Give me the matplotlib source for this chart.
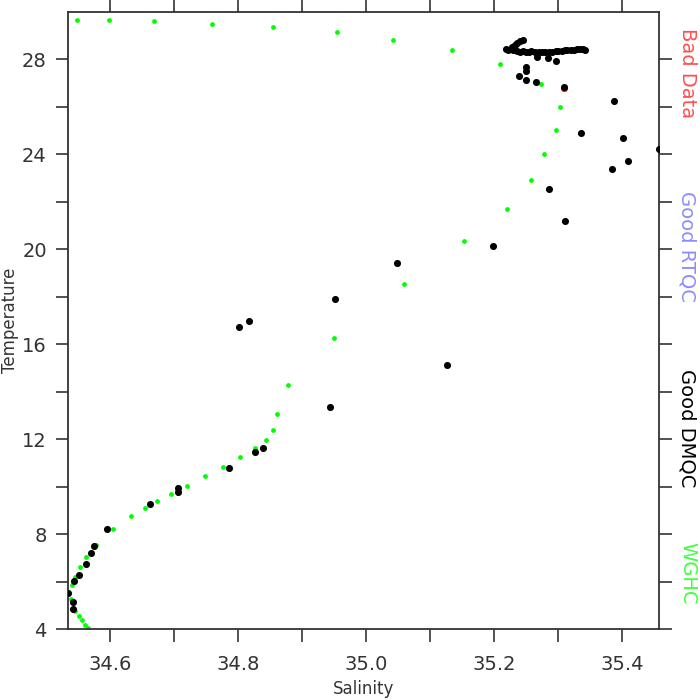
import matplotlib
matplotlib.use('Agg')
import matplotlib.pyplot as plt

# WGHC climatology profile
wghc_sal = [34.549, 34.599, 34.668, 34.760, 34.854, 34.954, 35.042, 35.134,
            35.209, 35.273, 35.302, 35.297, 35.277, 35.257, 35.219, 35.153,
            35.059, 34.950, 34.878, 34.860, 34.855, 34.844, 34.827, 34.803,
            34.776, 34.748, 34.720, 34.695, 34.674, 34.654, 34.633, 34.605,
            34.578, 34.563, 34.553, 34.545, 34.540, 34.539, 34.546, 34.551,
            34.556, 34.561, 34.566]
wghc_temp = [29.66, 29.63, 29.59, 29.50, 29.36, 29.14, 28.80, 28.38,
             27.79, 26.96, 25.99, 25.02, 23.99, 22.90, 21.70, 20.33,
             18.53, 16.25, 14.26, 13.05, 12.37, 11.95, 11.61, 11.23,
             10.84, 10.45, 10.04, 9.69, 9.38, 9.08, 8.76, 8.21,
             7.55, 7.03, 6.60, 6.19, 5.84, 5.25, 4.78, 4.56,
             4.37, 4.18, 4.04]

# bad data
bad_sal = [35.309]
bad_temp = [26.81]

# good DMQC
dmqc_sal = [34.534, 34.543, 34.543, 34.544, 34.552, 34.563, 34.570, 34.575,
            34.596, 34.663, 34.706, 34.706, 34.786, 34.826, 34.839, 34.943,
            35.126, 34.951, 34.801, 34.817, 35.048, 35.198, 35.311, 35.286,
            35.384, 35.408, 35.457, 35.401, 35.336, 35.387, 35.309, 35.265,
            35.249, 35.238, 35.249, 35.250,
            35.218, 35.222, 35.227, 35.232, 35.236, 35.240, 35.244, 35.229,
            35.235, 35.240, 35.244, 35.249, 35.254, 35.258, 35.263, 35.267,
            35.269, 35.274, 35.279, 35.284, 35.285, 35.290, 35.296, 35.296,
            35.300, 35.305, 35.310, 35.314, 35.319, 35.324, 35.329, 35.333,
            35.338, 35.341]
dmqc_temp = [5.51, 5.13, 4.84, 6.01, 6.29, 6.74, 7.20, 7.49,
             8.20, 9.28, 9.96, 9.79, 10.77, 11.47, 11.61, 13.33,
             15.11, 17.91, 16.74, 16.98, 19.40, 20.14, 21.18, 22.52,
             23.36, 23.73, 24.22, 24.69, 24.91, 26.25, 26.84, 27.03,
             27.13, 27.30, 27.52, 27.69,
             28.41, 28.37, 28.52, 28.60, 28.69, 28.77, 28.81, 28.37,
             28.33, 28.31, 28.33, 28.31, 28.31, 28.33, 28.31, 28.11,
             28.29, 28.31, 28.29, 28.03, 28.29, 28.31, 27.94, 28.33,
             28.35, 28.35, 28.37, 28.37, 28.39, 28.39, 28.41, 28.41,
             28.41, 28.39]

legend_labels = ['Bad Data', 'Good RTQC', 'Good DMQC', 'WGHC']
legend_colors = ['#ff5050', '#8c8cff', 'black', '#40ff40']
legend_ypos = [0.90, 0.62, 0.325, 0.09]

fig = plt.figure(figsize=(7, 7), dpi=100)
ax = fig.add_axes([0.0967, 0.1014, 0.8447, 0.8819])

ax.scatter(wghc_sal, wghc_temp, s=12, color='#00ff00', linewidths=0, zorder=2)
ax.scatter(bad_sal, [t - 0.04 for t in bad_temp], s=26, color='red', linewidths=0, zorder=3)
ax.scatter(dmqc_sal, dmqc_temp, s=26, color='black', linewidths=0, zorder=4)

ax.set_xlim(min(dmqc_sal), max(dmqc_sal))
ax.set_ylim(4, 30)
ax.set_xticks([34.6, 34.8, 35.0, 35.2, 35.4])
ax.set_xticks([34.7, 34.9, 35.1, 35.3], minor=True)
ax.set_yticks([4, 8, 12, 16, 20, 24, 28])
ax.set_yticks([6, 10, 14, 18, 22, 26], minor=True)
ax.set_xticklabels(['34.6', '34.8', '35.0', '35.2', '35.4'])

ax.tick_params(which='both', direction='out', length=9, width=1.2, color='#333333',
               top=True, right=True, labeltop=False, labelright=False,
               labelsize=14, labelcolor='#333333')
ax.tick_params(axis='x', pad=10)
ax.tick_params(axis='y', pad=6)
for sp in ax.spines.values():
    sp.set_linewidth(1.3)
    sp.set_color('#333333')

ax.set_xlabel('Salinity', fontsize=12, color='#333333', labelpad=4)
ax.set_ylabel('Temperature', fontsize=12, color='#333333')
ax.yaxis.set_label_coords(-0.082, 0.5)

for lab, col, yp in zip(legend_labels, legend_colors, legend_ypos):
    ax.text(1.048, yp, lab, transform=ax.transAxes, rotation=-90,
            ha='center', va='center', fontsize=14, color=col)

fig.savefig('out.png', dpi=100)
